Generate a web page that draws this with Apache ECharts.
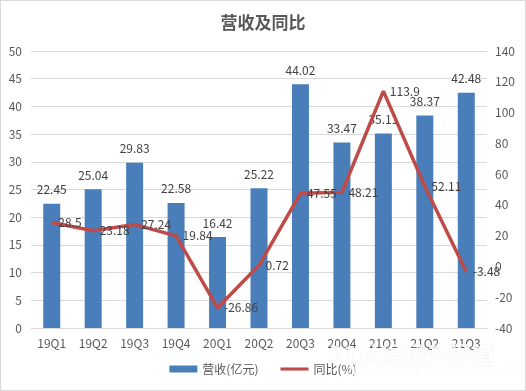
<!DOCTYPE html>
<html><head><meta charset="utf-8">
<script src="https://cdn.jsdelivr.net/npm/echarts@6/dist/echarts.min.js"></script>
<style>html,body{margin:0;padding:0;background:#fff}#c{width:524px;height:389px;border:1px solid #d9d9d9}</style>
</head><body><div id="c"></div>
<script>
const categories = ['19Q1','19Q2','19Q3','19Q4','20Q1','20Q2','20Q3','20Q4','21Q1','21Q2','21Q3'];
const revenue = [22.45,25.04,29.83,22.58,16.42,25.22,44.02,33.47,35.11,38.37,42.48];
const yoy = [28.5,23.18,27.24,19.84,-26.86,0.72,47.55,48.21,113.9,52.11,-3.48];
const leftTicks = {min:0,max:50,interval:5};
const rightTicks = {min:-40,max:140,interval:20};
const font = '"Microsoft YaHei","Noto Sans CJK SC",sans-serif';
const chart = echarts.init(document.getElementById('c'));
chart.setOption({
  animation:false,
  title:{text:'营收及同比',left:'center',top:8,textStyle:{fontSize:17,fontWeight:'bold',color:'#595959',fontFamily:'"Noto Sans CJK SC",serif'}},
  grid:{left:30,right:38,top:50,bottom:62},
  legend:{bottom:10,left:'center',itemGap:22,itemWidth:28,itemHeight:7,symbolKeepAspect:true,
    textStyle:{color:'#595959',fontSize:12,fontFamily:font},
    data:[{name:'营收(亿元)',icon:'rect'},{name:'同比(%)',icon:'path://M0,0L100,0L100,11L0,11Z'}]},
  xAxis:{type:'category',data:categories,axisTick:{show:false},axisLine:{lineStyle:{color:'#d9d9d9'}},
    axisLabel:{color:'#595959',fontSize:12,margin:9,fontFamily:font}},
  yAxis:[
    {type:'value',min:leftTicks.min,max:leftTicks.max,interval:leftTicks.interval,
     axisLabel:{color:'#595959',fontSize:12,margin:9,fontFamily:font},splitLine:{lineStyle:{color:'#d9d9d9'}}},
    {type:'value',min:rightTicks.min,max:rightTicks.max,interval:rightTicks.interval,
     axisLabel:{color:'#595959',fontSize:12,margin:8,fontFamily:font},splitLine:{show:false}}
  ],
  series:[
    {name:'营收(亿元)',type:'bar',data:revenue,barWidth:17,itemStyle:{color:'#4a7ebb'},
     label:{show:true,position:'top',distance:8,color:'#404040',fontSize:12,fontFamily:font}},
    {name:'同比(%)',type:'line',yAxisIndex:1,data:yoy,symbol:'circle',symbolSize:1,showSymbol:true,
     lineStyle:{color:'#be4b48',width:3.5},itemStyle:{color:'#be4b48'},
     label:{show:true,position:'right',distance:6,color:'#404040',fontSize:12,fontFamily:font}}
  ],
  graphic:[
    {type:'text',left:328,top:341,z:100,silent:true,style:{text:'21世纪经济报道',fill:'rgba(255,255,255,0.8)',fontSize:23,fontWeight:'bold',fontFamily:'"Noto Sans CJK SC",sans-serif',stroke:'rgba(210,210,210,0.25)',lineWidth:1}},
    {type:'text',left:345,top:366,z:100,silent:true,style:{text:'21ST CENTURY BUSINESS HERALD',fill:'rgba(255,255,255,0.75)',fontSize:10,fontStyle:'italic',fontWeight:'bold',fontFamily:'sans-serif',stroke:'rgba(210,210,210,0.2)',lineWidth:0.5}}
  ]
});
</script></body></html>
